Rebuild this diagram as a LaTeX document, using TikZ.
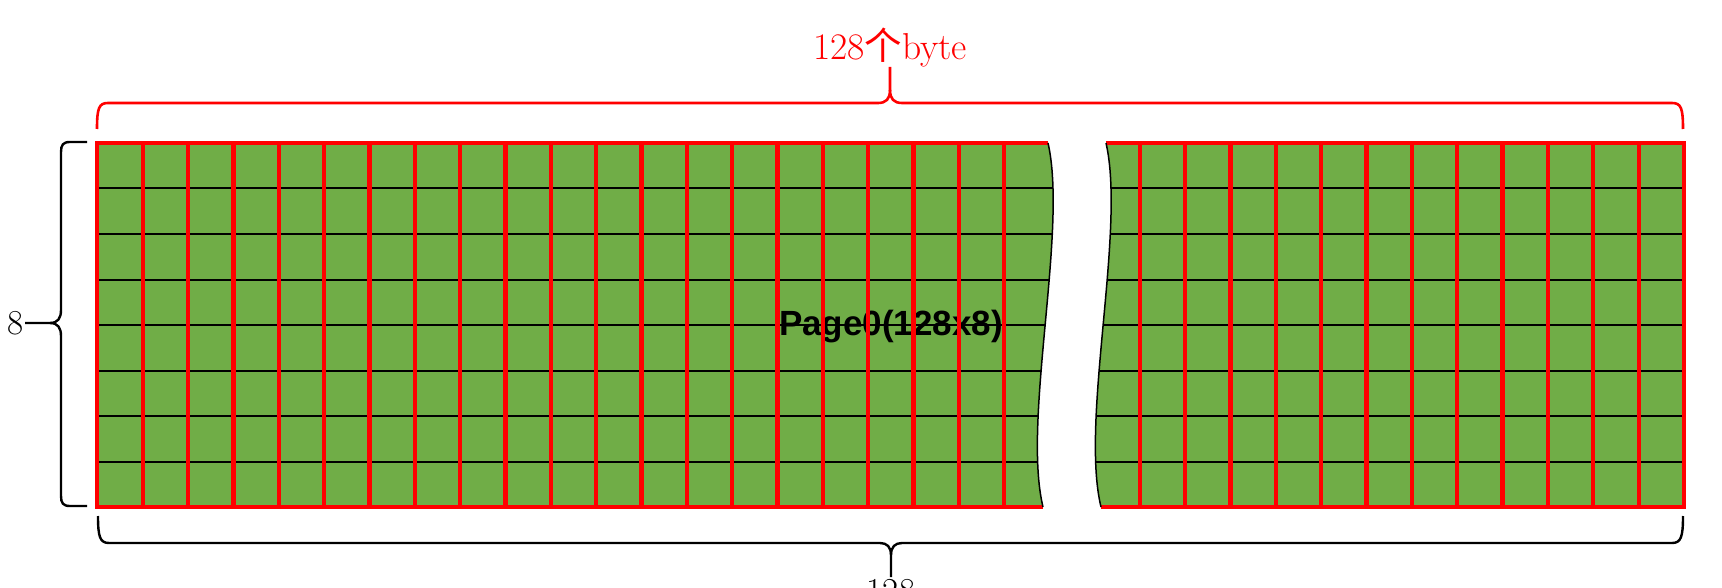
\documentclass[tikz,border=0pt]{standalone}
\usepackage{fontspec}
\newfontfamily\arialfont{Liberation Sans}
\newfontfamily\cjkfont{Noto Sans CJK SC}
\definecolor{cellgreen}{HTML}{70AD47}
\definecolor{pure red}{HTML}{FF0000}
\tikzset{
  redline/.style={draw=pure red, line width=4.3pt},
  blackline/.style={draw=black, line width=2pt},
  wavyline/.style={draw=black, line width=1.5pt},
  redbrace/.style={draw=pure red, line width=2.6pt},
  blackbrace/.style={draw=black, line width=2.4pt},
  lbl/.style={inner sep=0pt, font=\fontsize{35}{40}\selectfont},
}
\def\Lpath{(97.3,143) -- (1048,143) .. controls (1068,230) and (1022,420) .. (1043,507) -- (97.3,507) -- cycle}
\def\Rpath{(1106,143) .. controls (1126,230) and (1080,420) .. (1101,507) -- (1684,507) -- (1684,143) -- cycle}
\begin{document}
\begin{tikzpicture}[x=1pt,y=-1pt]
\useasboundingbox (0,0) rectangle (1722,588);
% green fills
\fill[cellgreen] \Lpath;
\fill[cellgreen] \Rpath;
% centre label
\node[anchor=base, inner sep=0pt, font=\arialfont\bfseries\fontsize{35}{40}\selectfont] (pagelab) at (891,335) {Page0(128x8)};
% left block grid
\begin{scope}
  \clip \Lpath;
  \foreach \j in {1,...,7} \draw[blackline] (90,{143+\j*45.5}) -- (1100,{143+\j*45.5});
  \foreach \k in {1,...,20} \draw[redline] ({97.3+\k*45.35},130) -- ({97.3+\k*45.35},520);
\end{scope}
% right block grid
\begin{scope}
  \clip \Rpath;
  \foreach \j in {1,...,7} \draw[blackline] (1050,{143+\j*45.5}) -- (1700,{143+\j*45.5});
  \foreach \k in {1,...,12} \draw[redline] ({1684-\k*45.35},130) -- ({1684-\k*45.35},520);
\end{scope}
% frames
\draw[redline, line join=miter] (1048,143) -- (97.3,143) -- (97.3,507) -- (1043,507);
\draw[redline, line join=miter] (1106,143) -- (1684,143) -- (1684,507) -- (1101,507);
% wavy break edges
\draw[wavyline] (1048,143) .. controls (1068,230) and (1022,420) .. (1043,507);
\draw[wavyline] (1106,143) .. controls (1126,230) and (1080,420) .. (1101,507);
% top red brace
\coordinate (toptip) at (890,67);
\draw[redbrace] (97,129) .. controls (97,108) and (99,103) .. (108,103) -- (878,103) .. controls (886,103) and (890,99) .. (890,90) -- (toptip);
\draw[redbrace] (1683,129) .. controls (1683,108) and (1681,103) .. (1672,103) -- (902,103) .. controls (894,103) and (890,99) .. (890,90);
\node[inner sep=0pt, font=\fontsize{37.5}{42}\selectfont, anchor=base, text=pure red] (toplab) at (890,60) {128{\cjkfont 个}byte};
% bottom black brace
\coordinate (bottip) at (891,577);
\draw[blackbrace] (98,516) .. controls (98,537) and (100,543) .. (109,543) -- (880,543) .. controls (887,543) and (891,547) .. (891,555) -- (bottip);
\draw[blackbrace] (1683,516) .. controls (1683,537) and (1681,543) .. (1672,543) -- (902,543) .. controls (895,543) and (891,547) .. (891,555);
\node[lbl, anchor=north] (botlab) at (891,579) {128};
% left black brace
\coordinate (lefttip) at (25,323);
\draw[blackbrace] (87,142) -- (70,142) .. controls (63,142) and (61,145) .. (61,152) -- (61,310) .. controls (61,318) and (58,323) .. (50,323) -- (lefttip);
\draw[blackbrace] (87,506) -- (70,506) .. controls (63,506) and (61,503) .. (61,496) -- (61,336) .. controls (61,328) and (58,323) .. (50,323);
\node[lbl, anchor=east] (leftlab) at (24,323) {8};
\end{tikzpicture}
\end{document}
